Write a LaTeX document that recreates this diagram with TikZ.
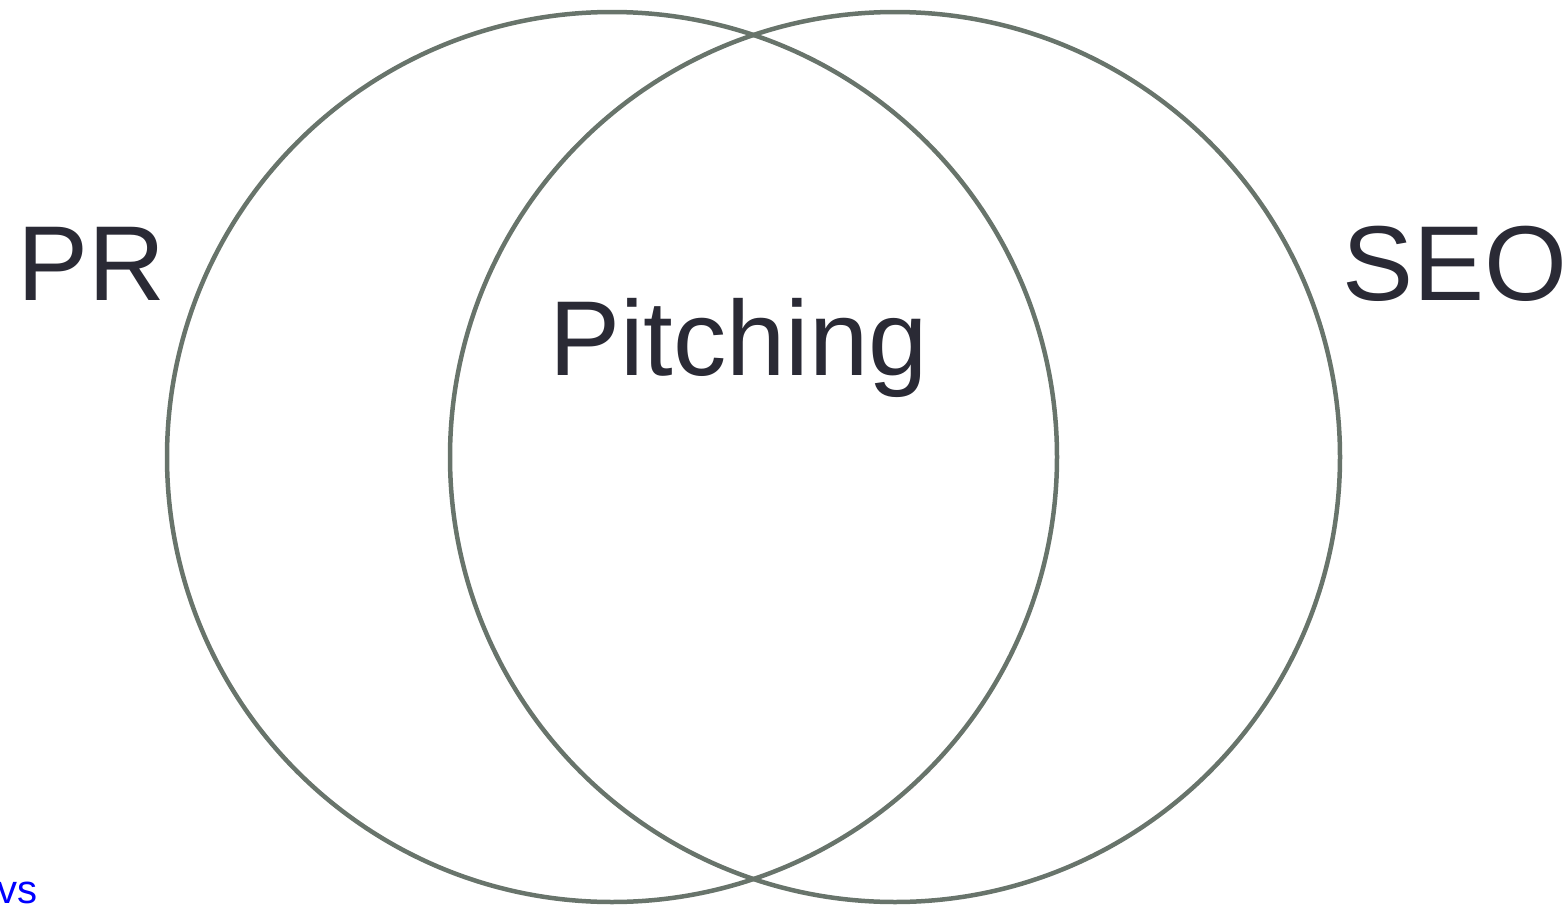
\documentclass[tikz,border=0pt]{standalone}
\usepackage{fontspec}
\setmainfont{Liberation Sans}
\usepackage{xcolor}
\usepackage{tikz}
\usetikzlibrary{positioning}

\begin{document}
\begin{tikzpicture}[x=1pt,y=-1pt]
              \definecolor{ringcol}{HTML}{68746B}
              \definecolor{labelcol}{HTML}{2A2A35}
              \tikzstyle{ring}=[circle,draw=ringcol,line width=4.5pt,minimum size=890pt,inner sep=0pt]
              \tikzstyle{biglabel}=[labelcol,inner sep=0pt,font=\fontsize{106.5}{118}\selectfont]
              \tikzstyle{smalllabel}=[blue,inner sep=0pt,font=\fontsize{40}{44}\selectfont]

              % CONSTANTS
              \def\cy{457}

              % Frame
              \useasboundingbox (0,0) rectangle (1567,905);

              % Circles
              \node[ring] (prring) at (612,\cy) {};
              \node[ring] (searing) at (895,\cy) {};

              % Labels
              \node[biglabel,anchor=base west] (pr) at (17,300) {PR};
              \node[biglabel,anchor=base east] (seo) at (1568,300) {SEO};
              \node[biglabel,anchor=base west] (pitch) at (549,375) {Pitching};
              \node[smalllabel,anchor=base west] (vs) at (-3,903) {vs};

            \end{tikzpicture}
\end{document}
